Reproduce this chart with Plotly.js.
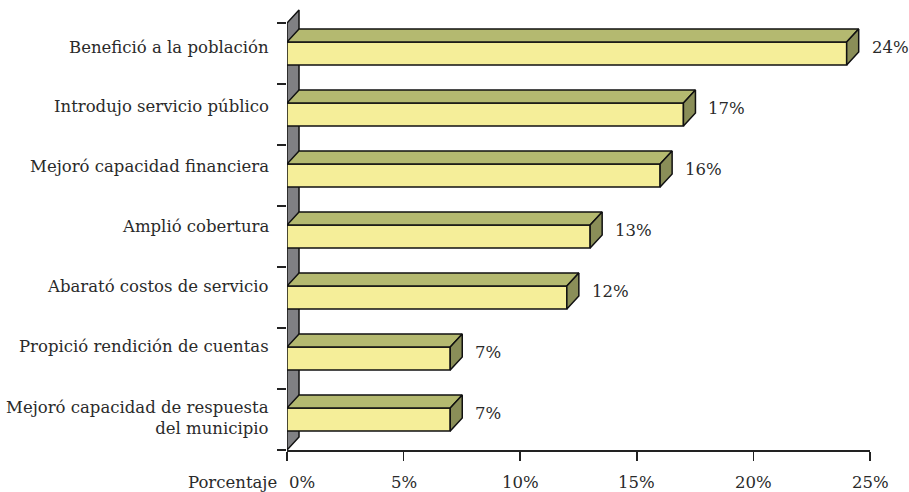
<!DOCTYPE html>
<html><head><meta charset="utf-8">
<script src="https://cdn.plot.ly/plotly-3.0.1.min.js"></script>
<style>html,body{margin:0;padding:0;background:#fff}</style>
</head><body><div id="chart" style="width:909px;height:492px"></div>
<script>
// Data (bottom to top)
const categories = ["Mejoró capacidad de respuesta<br>del municipio", "Propició rendición de cuentas", "Abarató costos de servicio", "Amplió cobertura", "Mejoró capacidad financiera", "Introdujo servicio público", "Benefició a la población"];
const values = [7, 7, 12, 13, 16, 17, 24];
const xTickVals = [0, 5, 10, 15, 20, 25];
const xTickText = ["0%", "5%", "10%", "15%", "20%", "25%"];
const axisTitle = "Porcentaje";

// Style constants (3D depth in axis units)
const DX = 0.515, DY = 0.213, HALF = 0.1885;
const FRONT = '#F5EE99', TOP = '#B4B970', SIDE = '#8A8E58', WALL = '#808083';
const FONT = 'DejaVu Serif', FS = 16.5, TXT = '#2a2a2a';

const traces = [];
function poly(xs, ys, color) {
  traces.push({type: 'scatter', mode: 'lines', x: xs, y: ys, fill: 'toself', fillcolor: color,
    line: {color: '#111', width: 1.5}, hoverinfo: 'skip', showlegend: false});
}
const n = categories.length;
// back wall
poly([0, DX, DX, 0, 0], [-0.5, -0.5 + DY, n - 0.5 + DY, n - 0.5, -0.5], WALL);
values.forEach((v, i) => {
  const b = i - HALF, t = i + HALF;
  poly([0, v, v, 0, 0], [b, b, t, t, b], FRONT);
  poly([0, v, v + DX, DX, 0], [t, t, t + DY, t + DY, t], TOP);
  poly([v, v + DX, v + DX, v, v], [b, b + DY, t + DY, t, b], SIDE);
});

const annotations = [];
categories.forEach((c, i) => {
  const multi = c.indexOf('<br>') >= 0;
  annotations.push({xref: 'paper', x: 0, xanchor: 'right', xshift: -16, yref: 'y', y: i + DY / 2,
    yanchor: 'middle', yshift: multi ? -5 : 1.1 * (n - 1 - i),
    text: c, align: 'right', showarrow: false, font: {family: FONT, size: FS, color: TXT}});
});
values.forEach((v, i) => {
  annotations.push({xref: 'x', x: v + DX, xanchor: 'left', xshift: 11, yref: 'y', y: i + DY / 2,
    yanchor: 'middle', text: v + '%', showarrow: false, font: {family: FONT, size: FS, color: TXT}});
});
xTickVals.forEach((v, k) => {
  annotations.push({xref: 'x', x: v, xanchor: k === 0 ? 'left' : 'center', yref: 'paper', y: 0,
    yanchor: 'middle', yshift: -32, text: xTickText[k], showarrow: false,
    font: {family: FONT, size: FS, color: TXT}});
});
annotations.push({xref: 'paper', x: 0, xanchor: 'right', xshift: -8, yref: 'paper', y: 0, yanchor: 'middle', yshift: -32,
  text: axisTitle, showarrow: false, font: {family: FONT, size: FS, color: TXT}});

const layout = {
  width: 909, height: 492,
  margin: {l: 287, r: 39, t: 8, b: 42},
  paper_bgcolor: '#fff', plot_bgcolor: '#fff',
  showlegend: false,
  xaxis: {range: [0, 25], tickvals: xTickVals, showticklabels: false, showgrid: false, zeroline: false,
    showline: true, linecolor: '#222', linewidth: 2, ticks: 'outside', ticklen: 9, tickwidth: 1.5, tickcolor: '#222',
    fixedrange: true},
  yaxis: {range: [-0.5, -0.5 + 442 / 61], tickvals: categories.map((c, i) => i - 0.5).concat([n - 0.5]),
    showticklabels: false, showgrid: false, zeroline: false, showline: false,
    ticks: 'outside', ticklen: 9, tickwidth: 1.5, tickcolor: '#222', fixedrange: true},
  annotations: annotations
};
Plotly.newPlot('chart', traces, layout, {displayModeBar: false, staticPlot: true});
</script></body></html>
